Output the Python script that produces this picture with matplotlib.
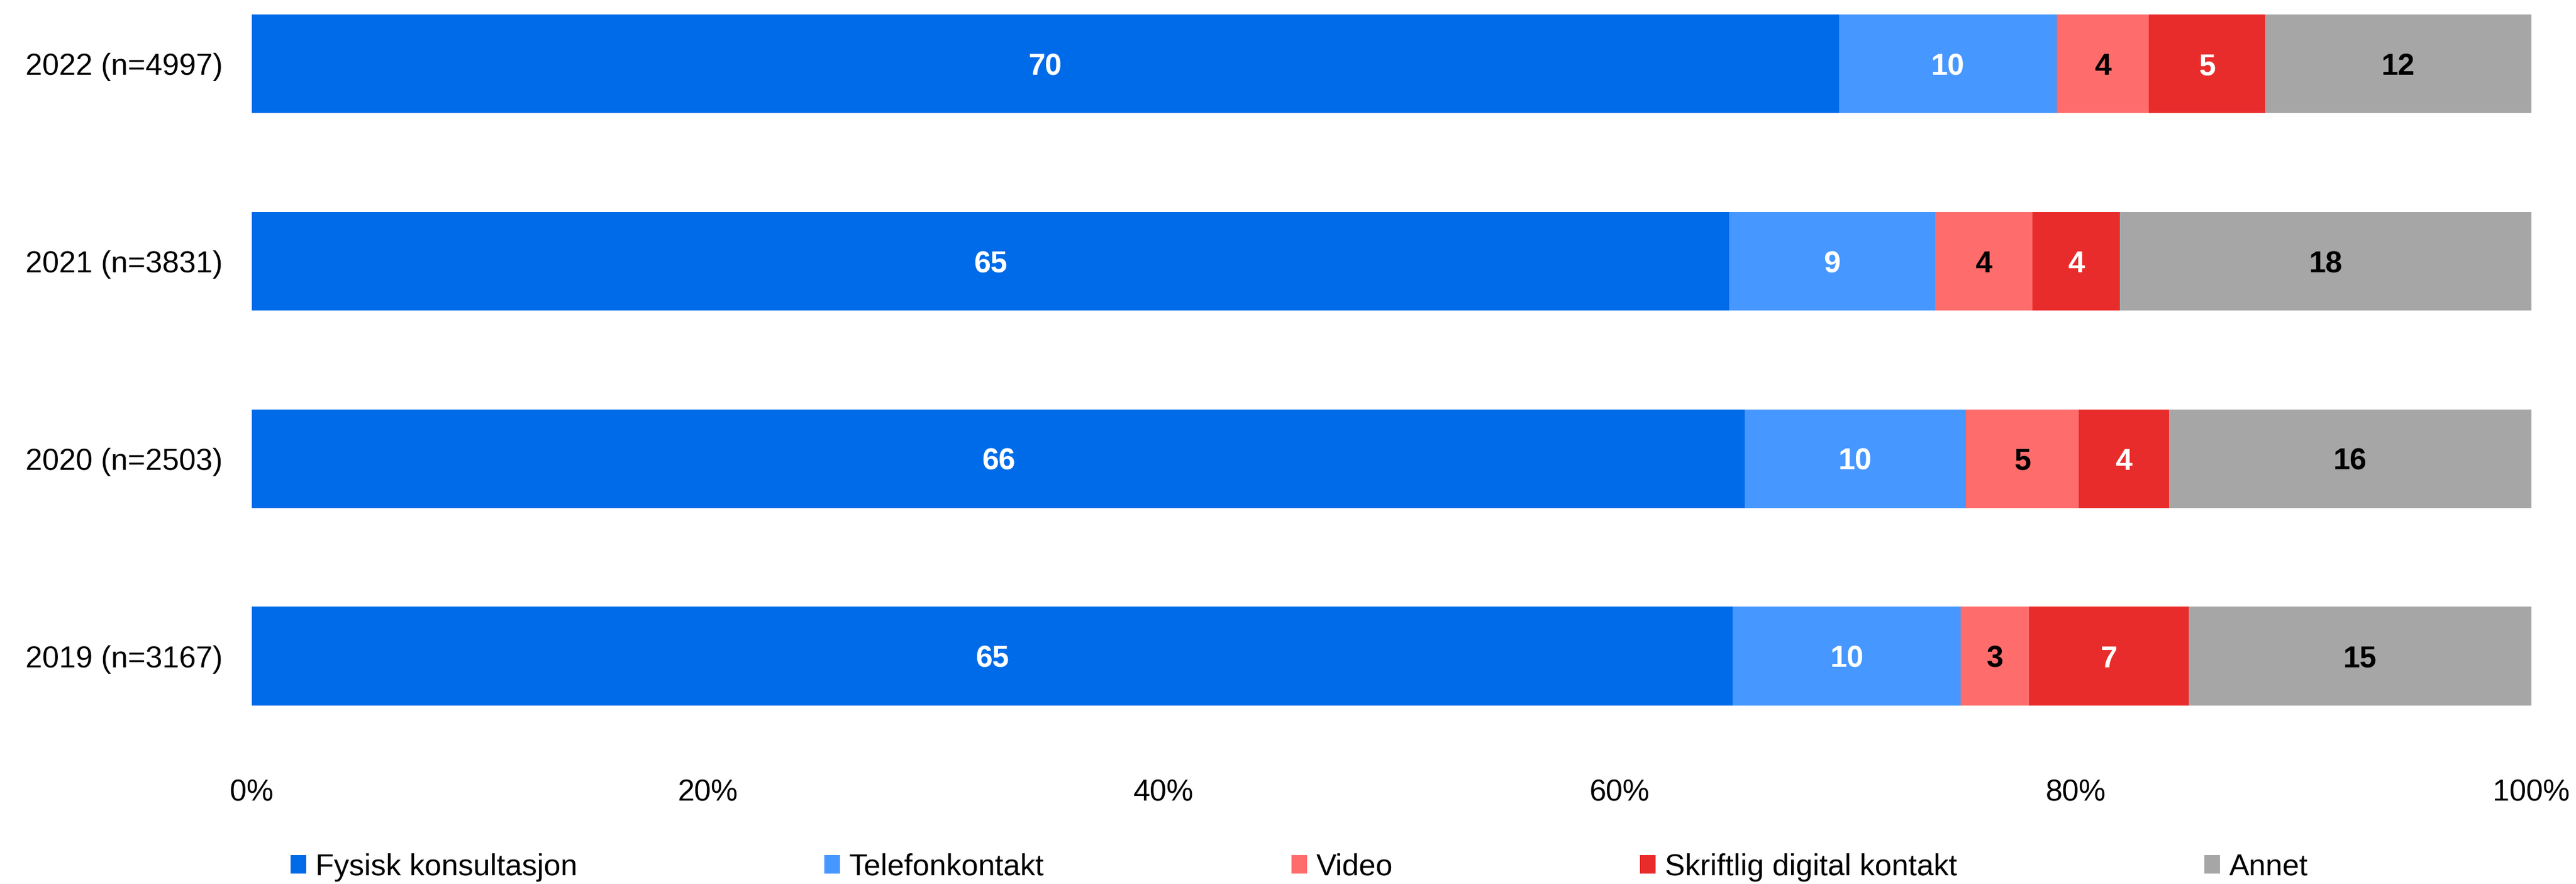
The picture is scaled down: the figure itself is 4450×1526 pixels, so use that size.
import math
import matplotlib
matplotlib.use('Agg')
import matplotlib.pyplot as plt
from matplotlib.patches import Patch
import numpy as np

plt.rcParams['font.family'] = ['Liberation Sans', 'DejaVu Sans']
plt.rcParams['font.size'] = 12.5

# rows top to bottom
years = ['2022 (n=4997)', '2021 (n=3831)', '2020 (n=2503)', '2019 (n=3167)']
series = ['Fysisk konsultasjon', 'Telefonkontakt', 'Video',
          'Skriftlig digital kontakt', 'Annet']

fysisk = [69.63, 64.80, 65.50, 64.96]
telefon = [9.55, 9.04, 9.69, 10.01]
video = [4.03, 4.27, 4.95, 2.99]
skriftlig = [5.11, 3.84, 3.96, 7.01]
annet = [11.68, 18.05, 15.90, 15.03]

colors = ['#006BE8', '#4697FF', '#FF6C6C', '#E82C2C', '#A6A6A6']
text_colors = ['white', 'white', 'black', 'white', 'black']

fig = plt.figure(figsize=(4450 / 300, 1526 / 300), dpi=300)
ax = fig.add_axes([435 / 4450, 1 - 1303 / 1526, (4373 - 435) / 4450, (1303 - 25) / 1526])

y = np.arange(len(years))
left = np.zeros(len(years))
for name, vals, c, tc in zip(series, [fysisk, telefon, video, skriftlig, annet],
                             colors, text_colors):
    vals = np.array(vals)
    bars = ax.barh(y, vals, left=left, height=0.5, color=c, label=name, linewidth=0)
    labels = ax.bar_label(bars, labels=[str(math.floor(v + 0.5)) for v in vals],
                          label_type='center', color=tc, fontweight='bold', fontsize=12.5)
    for t in labels:
        t.set_va('center_baseline')
    left += vals

ax.set_xlim(0, 100)
ax.set_ylim(len(years) - 0.5, -0.25)
ax.set_yticks(y)
ax.set_yticklabels(years)
ax.set_xticks(np.arange(0, 101, 20))
ax.set_xticklabels([f'{t}%' for t in range(0, 101, 20)])
ax.tick_params(axis='both', length=0, labelsize=12.5)
ax.tick_params(axis='x', pad=10)
ax.tick_params(axis='y', pad=12)
for s in ax.spines.values():
    s.set_visible(False)

handles = [Patch(facecolor=c, edgecolor='none') for c in colors]
fig.legend(handles, series, loc='center left', ncol=5, frameon=False,
           bbox_to_anchor=(502 / 4450, 1 - 1497 / 1526), bbox_transform=fig.transFigure,
           borderpad=0, borderaxespad=0, handlelength=0.52, handleheight=0.55,
           handletextpad=0.3, columnspacing=8.2, fontsize=12.5)

fig.savefig('out.png', dpi=300)
